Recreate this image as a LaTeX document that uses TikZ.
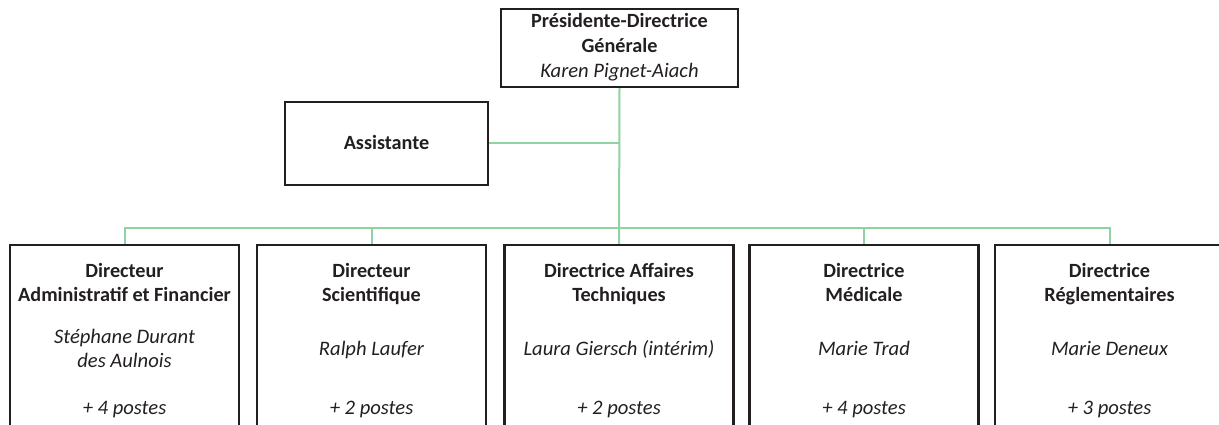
\documentclass[tikz,border=0pt]{standalone}
\usepackage{fontspec}
\setmainfont{Carlito}
\definecolor{ink}{HTML}{231F20}
\definecolor{link}{HTML}{8FD3A2}
\begin{document}
\begin{tikzpicture}[x=1pt,y=-1pt,
  box/.style={draw=ink,line width=2.4pt,rectangle,inner sep=0pt,fill=none},
  conn/.style={draw=link,line width=2pt},
  ttl/.style={anchor=base,inner sep=0pt,text=ink,font=\fontsize{20.2}{24}\selectfont\bfseries},
  nm/.style={anchor=base,inner sep=0pt,text=ink,font=\fontsize{20.6}{24}\selectfont\itshape}]
\useasboundingbox (0,0) rectangle (1219,425);
\clip (0,0) rectangle (1219,425);
% boxes
\node[box,minimum width=237pt,minimum height=78pt] (top) at (619.5,48) {};
\node[box,minimum width=203pt,minimum height=83pt] (asst) at (386.5,143.5) {};
\node[box,minimum width=229pt,minimum height=200pt] (b1) at (124.5,345) {};
\node[box,minimum width=229pt,minimum height=200pt] (b2) at (371.5,345) {};
\node[box,minimum width=229pt,minimum height=200pt] (b3) at (619,345) {};
\node[box,minimum width=229pt,minimum height=200pt] (b4) at (864,345) {};
\node[box,minimum width=229pt,minimum height=200pt] (b5) at (1109.5,345) {};
\coordinate (bus) at (619,228);
% connectors
\draw[conn] (top.south) -- (b3.north);
\draw[conn] (asst.east) -- (asst.east -| top.south);
\draw[conn] (b1.north) -- (b1.north |- bus) -- (b5.north |- bus) -- (b5.north);
\draw[conn] (b2.north) -- (b2.north |- bus);
\draw[conn] (b4.north) -- (b4.north |- bus);
% texts
\node[ttl] (t1) at (619.5,28) {Présidente-Directrice};
\node[ttl] (t2) at (619.5,53) {Générale};
\node[nm] (t3) at (619.5,78) {Karen Pignet-Aiach};
\node[ttl] (a1) at (386.5,150) {Assistante};
\node[ttl] (b1a) at (124.5,277) {Directeur};
\node[ttl] (b1b) at (124.5,301) {Administratif et Financier};
\node[nm] (b1c) at (124.5,343) {Stéphane Durant};
\node[nm] (b1d) at (124.5,367) {des Aulnois};
\node[nm] (b1e) at (124.5,414) {+ 4 postes};
\node[ttl] (b2a) at (371.5,277) {Directeur};
\node[ttl] (b2b) at (371.5,301) {Scientifique};
\node[nm] (b2c) at (371.5,355) {Ralph Laufer};
\node[nm] (b2e) at (371.5,414) {+ 2 postes};
\node[ttl] (b3a) at (619,277) {Directrice Affaires};
\node[ttl] (b3b) at (619,301) {Techniques};
\node[nm] (b3c) at (619,355) {Laura Giersch (intérim)};
\node[nm] (b3e) at (619,414) {+ 2 postes};
\node[ttl] (b4a) at (864,277) {Directrice};
\node[ttl] (b4b) at (864,301) {Médicale};
\node[nm] (b4c) at (864,355) {Marie Trad};
\node[nm] (b4e) at (864,414) {+ 4 postes};
\node[ttl] (b5a) at (1109.5,277) {Directrice};
\node[ttl] (b5b) at (1109.5,301) {Réglementaires};
\node[nm] (b5c) at (1109.5,355) {Marie Deneux};
\node[nm] (b5e) at (1109.5,414) {+ 3 postes};
\end{tikzpicture}
\end{document}
